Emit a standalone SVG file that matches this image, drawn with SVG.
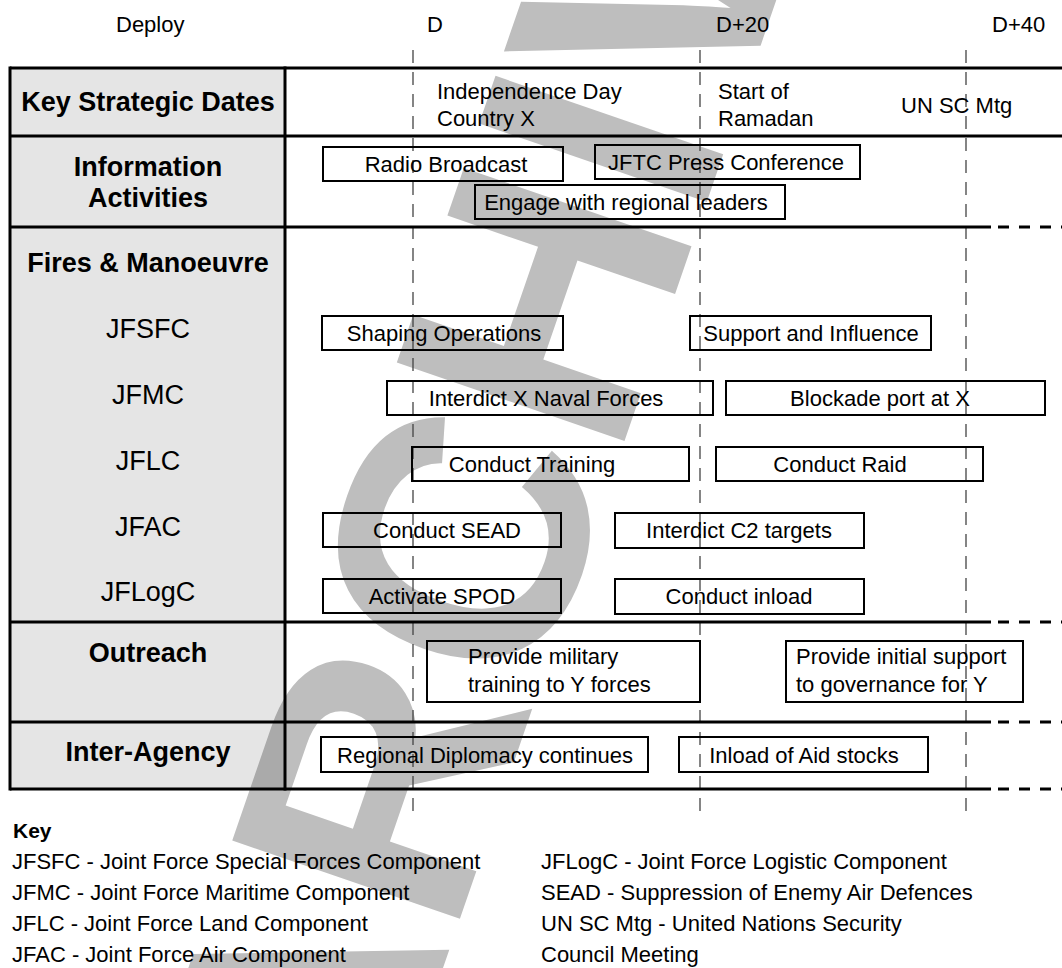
<svg xmlns="http://www.w3.org/2000/svg" width="1062" height="968" viewBox="0 0 1062 968">
<style>
text{font-family:"Liberation Sans",Arial,sans-serif;fill:#000}
.wm{font-size:350px;font-weight:bold;fill:#bebebe}
.hd{font-size:22px}
.rowb{font-size:27px;font-weight:bold;text-anchor:middle}
.rowr{font-size:27px;text-anchor:middle}
.t{font-size:22px}
.tc{font-size:22px;text-anchor:middle}
.box{fill:none;stroke:#000;stroke-width:2}
.tl{stroke:#000;stroke-width:3;fill:none}
.tld{stroke:#000;stroke-width:3;fill:none;stroke-dasharray:11 10}
.vd{stroke:#444;stroke-width:1.3;fill:none;stroke-dasharray:13 9}
</style>
<rect width="1062" height="968" fill="#fff"/>
<text class="wm" transform="translate(370,1180) rotate(-71)">ARCHIVE</text>
<g id="label-column">
<rect x="10" y="68" width="275" height="721" fill="#000" fill-opacity="0.1"/>
</g>
<g id="timeline-headers">
<text class="hd" x="116" y="32">Deploy</text>
<text class="hd" x="427" y="32">D</text>
<text class="hd" x="716" y="32">D+20</text>
<text class="hd" x="992" y="32">D+40</text>
</g>
<g id="connectors">
<line class="vd" x1="413" y1="50" x2="413" y2="818"/>
<line class="vd" x1="700" y1="50" x2="700" y2="818"/>
<line class="vd" x1="966" y1="50" x2="966" y2="818"/>
</g>
<g id="table-lines">
<line class="tl" x1="10" y1="68" x2="1062" y2="68"/>
<line class="tl" x1="10" y1="136" x2="1062" y2="136"/>
<line class="tl" x1="10" y1="227" x2="991" y2="227"/>
<line class="tld" x1="998" y1="227" x2="1062" y2="227"/>
<line class="tl" x1="10" y1="622" x2="991" y2="622"/>
<line class="tld" x1="998" y1="622" x2="1062" y2="622"/>
<line class="tl" x1="10" y1="722" x2="991" y2="722"/>
<line class="tld" x1="998" y1="722" x2="1062" y2="722"/>
<line class="tl" x1="10" y1="789" x2="991" y2="789"/>
<line class="tld" x1="998" y1="789" x2="1062" y2="789"/>
<line class="tl" x1="10" y1="66.5" x2="10" y2="790.5"/>
<line class="tl" x1="285" y1="66.5" x2="285" y2="790.5"/>
</g>
<g id="row-key-dates"><text class="rowb" x="148" y="111">Key Strategic Dates</text></g>
<g id="row-info"><text class="rowb" x="148" y="176">Information</text><text class="rowb" x="148" y="207">Activities</text></g>
<g id="row-fires"><text class="rowb" x="148" y="272">Fires &amp; Manoeuvre</text></g>
<g id="row-jfsfc"><text class="rowr" x="148" y="338">JFSFC</text></g>
<g id="row-jfmc"><text class="rowr" x="148" y="404">JFMC</text></g>
<g id="row-jflc"><text class="rowr" x="148" y="470">JFLC</text></g>
<g id="row-jfac"><text class="rowr" x="148" y="536">JFAC</text></g>
<g id="row-jflogc"><text class="rowr" x="148" y="601">JFLogC</text></g>
<g id="row-outreach"><text class="rowb" x="148" y="662">Outreach</text></g>
<g id="row-interagency"><text class="rowb" x="148" y="761">Inter-Agency</text></g>
<g id="date-independence"><text class="t" x="437" y="99">Independence Day</text><text class="t" x="437" y="126">Country X</text></g>
<g id="date-ramadan"><text class="t" x="718" y="99">Start of</text><text class="t" x="718" y="126">Ramadan</text></g>
<g id="date-unsc"><text class="t" x="901" y="113">UN SC Mtg</text></g>
<g id="radio"><rect class="box" x="323" y="147" width="240" height="34"/><text class="tc" x="446" y="172">Radio Broadcast</text></g>
<g id="press"><rect class="box" x="595" y="145" width="265" height="34"/><text class="tc" x="726" y="170">JFTC Press Conference</text></g>
<g id="engage"><rect class="box" x="475" y="185" width="310" height="34"/><text class="tc" x="626" y="210">Engage with regional leaders</text></g>
<g id="shaping"><rect class="box" x="322" y="316" width="241" height="34"/><text class="tc" x="444" y="341">Shaping Operations</text></g>
<g id="support"><rect class="box" x="690" y="316" width="241" height="34"/><text class="tc" x="811" y="341">Support and Influence</text></g>
<g id="interdict-naval"><rect class="box" x="387" y="381" width="326" height="34"/><text class="tc" x="546" y="406">Interdict X Naval Forces</text></g>
<g id="blockade"><rect class="box" x="726" y="381" width="319" height="34"/><text class="tc" x="880" y="406">Blockade port at X</text></g>
<g id="training"><rect class="box" x="412" y="447" width="277" height="34"/><text class="tc" x="532" y="472">Conduct Training</text></g>
<g id="raid"><rect class="box" x="716" y="447" width="267" height="34"/><text class="tc" x="840" y="472">Conduct Raid</text></g>
<g id="sead"><rect class="box" x="323" y="513" width="238" height="34"/><text class="tc" x="447" y="538">Conduct SEAD</text></g>
<g id="c2"><rect class="box" x="615" y="513" width="249" height="35"/><text class="tc" x="739" y="538">Interdict C2 targets</text></g>
<g id="spod"><rect class="box" x="323" y="579" width="238" height="34"/><text class="tc" x="442" y="604">Activate SPOD</text></g>
<g id="inload"><rect class="box" x="615" y="579" width="249" height="35"/><text class="tc" x="739" y="604">Conduct inload</text></g>
<g id="mil-training"><rect class="box" x="427" y="641" width="273" height="61"/><text class="t" x="468" y="664">Provide military</text><text class="t" x="468" y="692">training to Y forces</text></g>
<g id="governance"><rect class="box" x="786" y="641" width="237" height="61"/><text class="t" x="796" y="664">Provide initial support</text><text class="t" x="796" y="692">to governance for Y</text></g>
<g id="diplomacy"><rect class="box" x="321" y="737" width="327" height="35"/><text class="tc" x="485" y="763">Regional Diplomacy continues</text></g>
<g id="aid"><rect class="box" x="679" y="737" width="249" height="35"/><text class="tc" x="804" y="763">Inload of Aid stocks</text></g>
<g id="key">
<text x="13" y="838" style="font-size:21px;font-weight:bold">Key</text>
<text class="t" x="12" y="869">JFSFC - Joint Force Special Forces Component</text>
<text class="t" x="12" y="900">JFMC - Joint Force Maritime Component</text>
<text class="t" x="12" y="931">JFLC - Joint Force Land Component</text>
<text class="t" x="12" y="962">JFAC - Joint Force Air Component</text>
<text class="t" x="541" y="869">JFLogC - Joint Force Logistic Component</text>
<text class="t" x="541" y="900">SEAD - Suppression of Enemy Air Defences</text>
<text class="t" x="541" y="931">UN SC Mtg - United Nations Security</text>
<text class="t" x="541" y="962">Council Meeting</text>
</g>
</svg>
